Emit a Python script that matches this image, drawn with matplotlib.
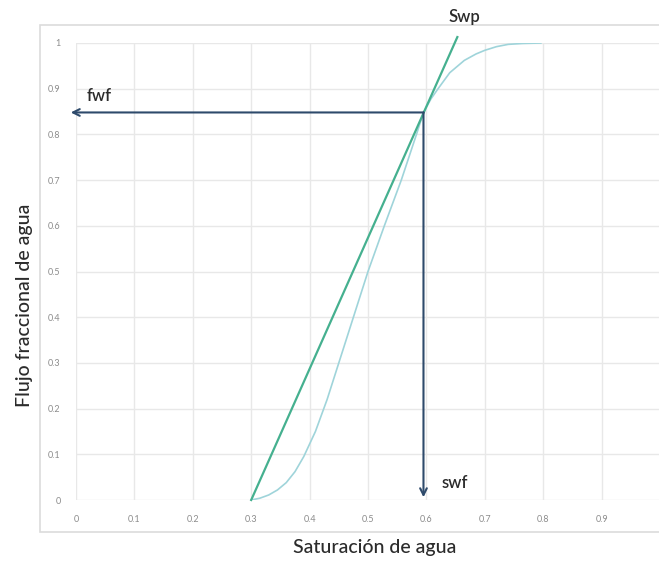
import matplotlib
matplotlib.use("Agg")
import matplotlib.pyplot as plt
from matplotlib.patches import Rectangle

plt.rcParams['font.family'] = ['Lato', 'DejaVu Sans']

# fractional flow curve fw(Sw)
sw_curve = [0.30, 0.315, 0.33, 0.345, 0.36, 0.375, 0.39, 0.41, 0.43, 0.45,
            0.475, 0.50, 0.528, 0.557, 0.583, 0.595, 0.608, 0.62, 0.64, 0.665,
            0.685, 0.70, 0.72, 0.74, 0.765, 0.796]
fw_curve = [0.0, 0.004, 0.011, 0.022, 0.038, 0.062, 0.095, 0.15, 0.22, 0.30,
            0.40, 0.50, 0.60, 0.70, 0.80, 0.848, 0.878, 0.90, 0.935, 0.962,
            0.976, 0.984, 0.992, 0.997, 0.999, 1.0]

# tangent from Swc through the front point
sw_tan = [0.30, 0.653]
fw_tan = [0.0, 1.013]

# front saturation / fractional flow
swf = 0.595
fwf = 0.848

x_ticks = [0, 0.1, 0.2, 0.3, 0.4, 0.5, 0.6, 0.7, 0.8, 0.9]
x_labels = ['0', '0.1', '0.2', '0.3', '0.4', '0.5', '0.6', '0.7', '0.8', '0.9']
y_ticks = [0, 0.1, 0.2, 0.3, 0.4, 0.5, 0.6, 0.7, 0.8, 0.9, 1]
y_labels = ['0', '0.1', '0.2', '0.3', '0.4', '0.5', '0.6', '0.7', '0.8', '0.9', '1']

fig = plt.figure(figsize=(6.59, 5.61), dpi=100)

# light frame around the chart area
bg = fig.add_axes([0, 0, 1, 1], zorder=-1)
bg.set_axis_off()
bg.set_xlim(0, 659)
bg.set_ylim(561, 0)
bg.add_patch(Rectangle((40, 25), 640, 507, facecolor='white',
                       edgecolor='#dcdcdc', lw=1.2))

ax = fig.add_axes([76 / 659, (561 - 500) / 561, 584 / 659, 457 / 561])
ax.set_facecolor('none')
ax.set_xlim(0, 1)
ax.set_ylim(0, 1)
for s in ax.spines.values():
    s.set_visible(False)
ax.set_xticks(x_ticks)
ax.set_xticklabels(x_labels)
ax.set_yticks(y_ticks)
ax.set_yticklabels(y_labels)
ax.axvline(1.0, color='#e8e8e8', lw=1.0, zorder=0)
ax.tick_params(length=0, labelsize=6.5, labelcolor='#8c8c8c')
ax.tick_params(axis='x', pad=11)
ax.tick_params(axis='y', pad=11)
ax.grid(True, color='#e8e8e8', lw=1.0)
ax.set_axisbelow(True)

ax.plot(sw_curve, fw_curve, color='#9fd4da', lw=1.2, zorder=3)
ax.plot(sw_tan, fw_tan, color='#45b08f', lw=1.6, zorder=4, clip_on=False)

arrow = dict(arrowstyle='->', color='#2e4a6b', lw=1.5, shrinkA=0, shrinkB=0,
             mutation_scale=12)
ax.annotate('', xy=(-0.009, fwf), xytext=(swf, fwf), arrowprops=arrow,
            annotation_clip=False, zorder=5)
ax.annotate('', xy=(swf, 0.006), xytext=(swf, fwf), arrowprops=arrow,
            annotation_clip=False, zorder=5)

note = dict(fontsize=12, color='#2b2b2b', fontweight='semibold')
ax.text(0.665, 1.04, 'Swp', ha='center', va='bottom', **note)
ax.text(0.04, 0.885, 'fwf', ha='center', va='center', **note)
ax.text(0.648, 0.037, 'swf', ha='center', va='center', **note)

fig.text(25 / 659, (561 - 305) / 561, 'Flujo fraccional de agua', rotation=90,
         fontsize=14, color='#2b2b2b', fontweight='medium', ha='center', va='center')
fig.text(375 / 659, (561 - 547) / 561, 'Saturación de agua',
         fontsize=14, color='#2b2b2b', fontweight='medium', ha='center', va='center')

fig.savefig('out.png', dpi=100)
